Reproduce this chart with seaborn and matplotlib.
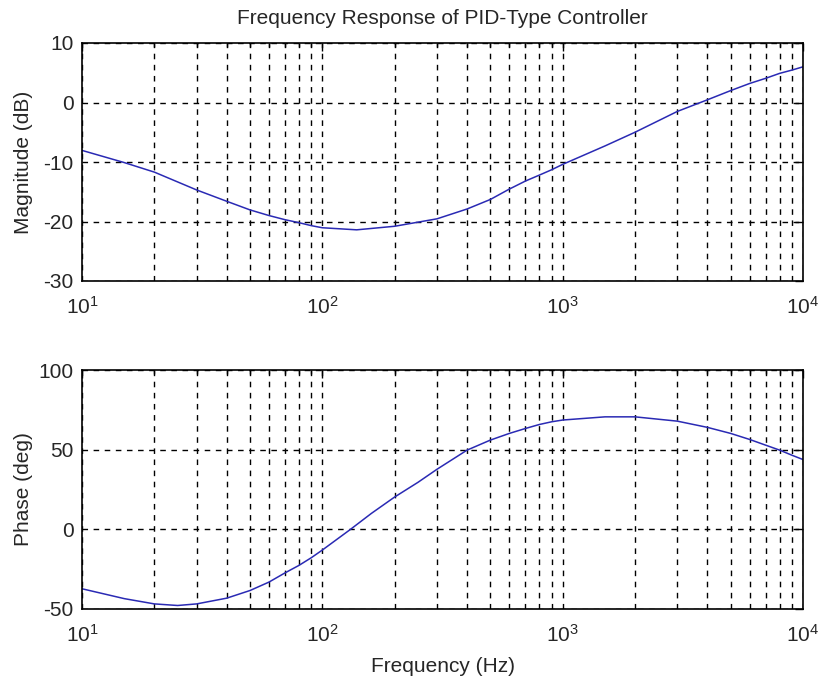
import numpy as np
import pandas as pd
import matplotlib
matplotlib.use("Agg")
import matplotlib.pyplot as plt
import seaborn as sns
from matplotlib.ticker import LogLocator, NullFormatter, FixedLocator

# ---- data ----
freq_mag = [10, 15, 20, 30, 40, 50, 60, 70, 80, 90, 100, 139, 200, 300, 400, 500,
            600, 700, 800, 900, 1000, 1500, 2000, 3000, 4000, 5000, 6000, 7000, 8000,
            9000, 10000]
magnitude_db = [-8.05, -10.1, -11.7, -14.7, -16.6, -18.05, -19.0, -19.7, -20.2, -20.7,
                -21.05, -21.4, -20.8, -19.55, -17.9, -16.3, -14.55, -13.2,
                -12.2, -11.3, -10.4, -7.3, -5.0, -1.5, 0.45, 2.0, 3.2, 4.07, 4.9,
                5.45, 6.0]

freq_phase = [10, 15, 20, 25, 30, 40, 50, 60, 70, 80, 90, 100, 131, 160, 200, 250, 300, 400,
              500, 600, 700, 800, 900, 1000, 1500, 2000, 3000, 4000, 5000,
              6000, 7000, 8000, 9000, 10000]
phase_deg = [-37.3, -43.5, -46.8, -47.8, -46.8, -43.2, -38.4, -33.1, -27.3, -22.6,
             -17.8, -13.0, 0.0, 10.0, 20.3, 29.5, 37.7, 49.7, 56.0, 60.2, 63.3, 65.8, 67.5,
             68.6, 70.6, 70.6, 67.9, 64.0, 60.2, 56.4, 52.8, 49.7, 46.5, 43.8]

mag_yticks = [-30, -20, -10, 0, 10]
phase_yticks = [-50, 0, 50, 100]

title_text = "Frequency Response of PID-Type Controller"
mag_label = "Magnitude (dB)"
phase_label = "Phase (deg)"
x_label = "Frequency (Hz)"

df_mag = pd.DataFrame({"f": freq_mag, "v": magnitude_db})
df_ph = pd.DataFrame({"f": freq_phase, "v": phase_deg})

sns.set_style("white")
plt.rcParams["font.family"] = ["Liberation Sans", "DejaVu Sans"]
plt.rcParams["axes.unicode_minus"] = False
plt.rcParams["mathtext.fontset"] = "custom"
plt.rcParams["mathtext.rm"] = "Liberation Sans"
plt.rcParams["mathtext.it"] = "Liberation Sans"

fig = plt.figure(figsize=(8.21, 6.84), dpi=100)
fig.patch.set_facecolor("white")
ax1 = fig.add_axes([82 / 821, 1 - 281 / 684, 721 / 821, 238 / 684])
ax2 = fig.add_axes([82 / 821, 1 - 609 / 684, 721 / 821, 239 / 684])

line_color = "#2a2ab4"
fs = 15

for ax, df, yt, ylim, ylab in [(ax1, df_mag, mag_yticks, (-30, 10), mag_label),
                               (ax2, df_ph, phase_yticks, (-50, 100), phase_label)]:
    sns.lineplot(data=df, x="f", y="v", ax=ax, color=line_color, linewidth=1.1,
                 sort=False, estimator=None)
    ax.set_xscale("log")
    ax.set_xlim(10, 10000)
    ax.set_ylim(*ylim)
    ax.yaxis.set_major_locator(FixedLocator(yt))
    ax.xaxis.set_major_locator(LogLocator(base=10, numticks=10))
    ax.xaxis.set_minor_locator(LogLocator(base=10, subs=np.arange(2, 10), numticks=20))
    ax.xaxis.set_minor_formatter(NullFormatter())
    ax.grid(True, which="major", axis="both", color="black", linestyle=(0, (4, 4)), linewidth=1.0)
    ax.grid(True, which="minor", axis="x", color="black", linestyle=(0, (4, 4)), linewidth=1.0)
    ax.tick_params(which="both", direction="in", top=True, right=True, labelsize=fs,
                   color="black", width=1)
    ax.tick_params(which="major", length=6)
    ax.tick_params(axis="y", which="major", pad=6)
    ax.tick_params(axis="x", which="major", pad=11)
    ax.tick_params(which="minor", length=3)
    for s in ax.spines.values():
        s.set_color("black")
        s.set_linewidth(1.2)
    ax.set_ylabel(ylab, fontsize=fs)
    ax.set_xlabel("")
    ax.set_axisbelow(True)

ax1.set_title(title_text, fontsize=fs, pad=14)
ax2.set_xlabel(x_label, fontsize=fs, labelpad=8)
ax1.yaxis.set_label_coords(-0.068, 0.5)
ax2.yaxis.set_label_coords(-0.068, 0.5)

fig.savefig("out.png", dpi=100, facecolor="white")
